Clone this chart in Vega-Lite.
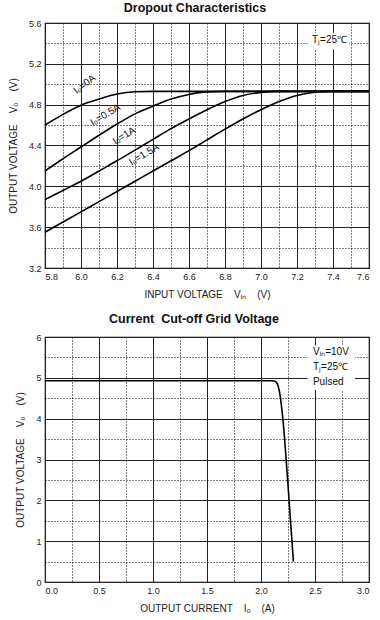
{
  "$schema": "https://vega.github.io/schema/vega-lite/v6.json",
  "background": "white",
  "padding": {"left": 7, "top": 0, "right": 3, "bottom": 0},
  "spacing": 11,
  "config": {
    "font": "Liberation Sans",
    "view": {"stroke": "black", "strokeWidth": 1.2},
    "axis": {
      "labelFont": "Liberation Sans", "labelFontSize": 9, "labelColor": "#222",
      "titleFont": "Liberation Sans", "titleFontSize": 10, "titleFontWeight": "normal", "titleColor": "#222",
      "tickSize": 0, "ticks": false, "domain": false, "labelPadding": 4,
      "gridColor": "#222", "gridOpacity": 1, "gridWidth": 1
    },
    "title": {"font": "Liberation Sans", "fontSize": 12.5, "fontWeight": "bold", "color": "#111"}
  },
  "datasets": {
    "drop": [
      {"s": "0A", "vin": 5.8, "vo": 4.60}, {"s": "0A", "vin": 5.9, "vo": 4.705}, {"s": "0A", "vin": 6.0, "vo": 4.795},
      {"s": "0A", "vin": 6.1, "vo": 4.855}, {"s": "0A", "vin": 6.2, "vo": 4.905}, {"s": "0A", "vin": 6.3, "vo": 4.927},
      {"s": "0A", "vin": 6.4, "vo": 4.93}, {"s": "0A", "vin": 7.6, "vo": 4.93},
      {"s": "0.5A", "vin": 5.8, "vo": 4.15}, {"s": "0.5A", "vin": 5.9, "vo": 4.27}, {"s": "0.5A", "vin": 6.0, "vo": 4.385},
      {"s": "0.5A", "vin": 6.1, "vo": 4.50}, {"s": "0.5A", "vin": 6.2, "vo": 4.61}, {"s": "0.5A", "vin": 6.3, "vo": 4.71},
      {"s": "0.5A", "vin": 6.4, "vo": 4.785}, {"s": "0.5A", "vin": 6.5, "vo": 4.855}, {"s": "0.5A", "vin": 6.6, "vo": 4.90},
      {"s": "0.5A", "vin": 6.7, "vo": 4.925}, {"s": "0.5A", "vin": 6.8, "vo": 4.93}, {"s": "0.5A", "vin": 7.6, "vo": 4.93},
      {"s": "1A", "vin": 5.8, "vo": 3.87}, {"s": "1A", "vin": 5.9, "vo": 3.96}, {"s": "1A", "vin": 6.0, "vo": 4.05},
      {"s": "1A", "vin": 6.1, "vo": 4.15}, {"s": "1A", "vin": 6.2, "vo": 4.25}, {"s": "1A", "vin": 6.3, "vo": 4.355},
      {"s": "1A", "vin": 6.4, "vo": 4.46}, {"s": "1A", "vin": 6.5, "vo": 4.565}, {"s": "1A", "vin": 6.6, "vo": 4.66},
      {"s": "1A", "vin": 6.7, "vo": 4.75}, {"s": "1A", "vin": 6.8, "vo": 4.83}, {"s": "1A", "vin": 6.9, "vo": 4.89},
      {"s": "1A", "vin": 7.0, "vo": 4.92}, {"s": "1A", "vin": 7.1, "vo": 4.93}, {"s": "1A", "vin": 7.6, "vo": 4.93},
      {"s": "1.5A", "vin": 5.8, "vo": 3.55}, {"s": "1.5A", "vin": 5.9, "vo": 3.65}, {"s": "1.5A", "vin": 6.0, "vo": 3.75},
      {"s": "1.5A", "vin": 6.1, "vo": 3.85}, {"s": "1.5A", "vin": 6.2, "vo": 3.95}, {"s": "1.5A", "vin": 6.3, "vo": 4.05},
      {"s": "1.5A", "vin": 6.4, "vo": 4.15}, {"s": "1.5A", "vin": 6.5, "vo": 4.25}, {"s": "1.5A", "vin": 6.6, "vo": 4.35},
      {"s": "1.5A", "vin": 6.7, "vo": 4.455}, {"s": "1.5A", "vin": 6.8, "vo": 4.56}, {"s": "1.5A", "vin": 6.9, "vo": 4.66},
      {"s": "1.5A", "vin": 7.0, "vo": 4.75}, {"s": "1.5A", "vin": 7.1, "vo": 4.83}, {"s": "1.5A", "vin": 7.2, "vo": 4.89},
      {"s": "1.5A", "vin": 7.3, "vo": 4.922}, {"s": "1.5A", "vin": 7.4, "vo": 4.93}, {"s": "1.5A", "vin": 7.6, "vo": 4.93}
    ],
    "cut": [
      {"io": 0.0, "vo": 4.93}, {"io": 1.0, "vo": 4.93}, {"io": 2.1, "vo": 4.93}, {"io": 2.125, "vo": 4.92},
      {"io": 2.145, "vo": 4.88}, {"io": 2.16, "vo": 4.79}, {"io": 2.175, "vo": 4.60}, {"io": 2.19, "vo": 4.30},
      {"io": 2.21, "vo": 3.78}, {"io": 2.23, "vo": 3.10}, {"io": 2.25, "vo": 2.38}, {"io": 2.27, "vo": 1.62},
      {"io": 2.29, "vo": 0.88}, {"io": 2.30, "vo": 0.50}
    ],
    "dropLabels": [
      {"t": "Iₒ=0.5A", "x": 6.135, "y": 4.70},
      {"t": "Iₒ=1A", "x": 6.24, "y": 4.495},
      {"t": "Iₒ=1.5A", "x": 6.35, "y": 4.31}
    ],
    "dropLabel0": [{"t": "Iₒ=0A", "x": 6.02, "y": 5.0}],
    "dropNote": [{"t": "Tⱼ=25℃", "x": 7.283, "y": 5.436}],
    "dropBox": [{"x1": 7.26, "x2": 7.49, "y1": 5.34, "y2": 5.505}],
    "cutNote": [
      {"t": "Vᵢₙ=10V", "x": 2.481, "y": 5.63},
      {"t": "Tⱼ=25℃", "x": 2.481, "y": 5.26},
      {"t": "Pulsed", "x": 2.481, "y": 4.90}
    ],
    "cutBox": [{"x1": 2.43, "x2": 2.87, "y1": 4.70, "y2": 5.80}]
  },
  "vconcat": [
    {
      "title": {"text": "Dropout Characteristics", "offset": 5, "dx": -12},
      "width": 324,
      "height": 245,
      "resolve": {"axis": {"x": "independent", "y": "independent"}},
      "layer": [
        {
          "data": {"name": "drop"},
          "mark": {"type": "point", "opacity": 0},
          "encoding": {
            "x": {"field": "vin", "type": "quantitative", "scale": {"domain": [5.8, 7.6], "nice": false, "zero": false},
                  "axis": {"orient": "bottom", "values": [5.9, 6.1, 6.3, 6.5, 6.7, 6.9, 7.1, 7.3, 7.5], "labels": false, "title": null, "grid": true, "gridDash": [1, 2], "gridColor": "#000"}},
            "y": {"field": "vo", "type": "quantitative", "scale": {"domain": [3.2, 5.6], "nice": false, "zero": false},
                  "axis": {"orient": "left", "values": [3.4, 3.8, 4.2, 4.6, 5.0, 5.4], "labels": false, "title": null, "grid": true, "gridDash": [1, 2], "gridColor": "#000"}}
          }
        },
        {
          "data": {"name": "drop"},
          "mark": {"type": "line", "color": "black", "strokeWidth": 1.6, "interpolate": "monotone"},
          "encoding": {
            "x": {"field": "vin", "type": "quantitative",
                  "axis": {"orient": "bottom", "values": [5.8, 6.0, 6.2, 6.4, 6.6, 6.8, 7.0, 7.2, 7.4, 7.6], "format": ".1f", "grid": true,
                           "title": "INPUT VOLTAGE\u00a0\u00a0\u00a0\u00a0Vᵢₙ\u00a0\u00a0\u00a0\u00a0(V)", "titlePadding": 8}},
            "y": {"field": "vo", "type": "quantitative",
                  "axis": {"orient": "left", "values": [3.2, 3.6, 4.0, 4.4, 4.8, 5.2, 5.6], "format": ".1f", "grid": true,
                           "title": "OUTPUT VOLTAGE\u00a0\u00a0\u00a0\u00a0Vₒ\u00a0\u00a0\u00a0\u00a0(V)", "titlePadding": 10}},
            "detail": {"field": "s"}
          }
        },
        {
          "data": {"name": "dropBox"},
          "mark": {"type": "rect", "color": "white"},
          "encoding": {
            "x": {"field": "x1", "type": "quantitative", "axis": null}, "x2": {"field": "x2"},
            "y": {"field": "y1", "type": "quantitative", "axis": null}, "y2": {"field": "y2"}
          }
        },
        {
          "data": {"name": "dropNote"},
          "mark": {"type": "text", "align": "left", "baseline": "middle", "fontSize": 10, "color": "#111"},
          "encoding": {
            "x": {"field": "x", "type": "quantitative", "axis": null},
            "y": {"field": "y", "type": "quantitative", "axis": null},
            "text": {"field": "t"}
          }
        },
        {
          "data": {"name": "dropLabels"},
          "mark": {"type": "text", "align": "center", "baseline": "middle", "fontSize": 10, "angle": -31, "color": "#111"},
          "encoding": {
            "x": {"field": "x", "type": "quantitative", "axis": null},
            "y": {"field": "y", "type": "quantitative", "axis": null},
            "text": {"field": "t"}
          }
        },
        {
          "data": {"name": "dropLabel0"},
          "mark": {"type": "text", "align": "center", "baseline": "middle", "fontSize": 10, "angle": -38, "color": "#111"},
          "encoding": {
            "x": {"field": "x", "type": "quantitative", "axis": null},
            "y": {"field": "y", "type": "quantitative", "axis": null},
            "text": {"field": "t"}
          }
        }
      ]
    },
    {
      "title": {"text": "Current\u00a0\u00a0Cut-off Grid Voltage", "offset": 8, "dx": -13},
      "width": 324,
      "height": 245,
      "resolve": {"axis": {"x": "independent", "y": "independent"}},
      "layer": [
        {
          "data": {"name": "cut"},
          "mark": {"type": "point", "opacity": 0},
          "encoding": {
            "x": {"field": "io", "type": "quantitative", "scale": {"domain": [0, 3], "nice": false},
                  "axis": {"orient": "bottom", "values": [0.25, 0.75, 1.25, 1.75, 2.25, 2.75], "labels": false, "title": null, "grid": true, "gridDash": [1, 2], "gridColor": "#000"}},
            "y": {"field": "vo", "type": "quantitative", "scale": {"domain": [0, 6], "nice": false},
                  "axis": {"orient": "left", "values": [0.5, 1.5, 2.5, 3.5, 4.5, 5.5], "labels": false, "title": null, "grid": true, "gridDash": [1, 2], "gridColor": "#000"}}
          }
        },
        {
          "data": {"name": "cut"},
          "mark": {"type": "line", "color": "black", "strokeWidth": 1.6, "interpolate": "monotone"},
          "encoding": {
            "x": {"field": "io", "type": "quantitative",
                  "axis": {"orient": "bottom", "values": [0, 0.5, 1.0, 1.5, 2.0, 2.5, 3.0], "format": ".1f", "grid": true,
                           "title": "OUTPUT CURRENT\u00a0\u00a0\u00a0\u00a0Iₒ\u00a0\u00a0\u00a0\u00a0(A)", "titlePadding": 8}},
            "y": {"field": "vo", "type": "quantitative",
                  "axis": {"orient": "left", "values": [0, 1, 2, 3, 4, 5, 6], "format": "d", "grid": true,
                           "title": "OUTPUT VOLTAGE\u00a0\u00a0\u00a0\u00a0Vₒ\u00a0\u00a0\u00a0\u00a0(V)", "titlePadding": 10}}
          }
        },
        {
          "data": {"name": "cutBox"},
          "mark": {"type": "rect", "color": "white"},
          "encoding": {
            "x": {"field": "x1", "type": "quantitative", "axis": null}, "x2": {"field": "x2"},
            "y": {"field": "y1", "type": "quantitative", "axis": null}, "y2": {"field": "y2"}
          }
        },
        {
          "data": {"name": "cutNote"},
          "mark": {"type": "text", "align": "left", "baseline": "middle", "fontSize": 10, "color": "#111"},
          "encoding": {
            "x": {"field": "x", "type": "quantitative", "axis": null},
            "y": {"field": "y", "type": "quantitative", "axis": null},
            "text": {"field": "t"}
          }
        }
      ]
    }
  ]
}
